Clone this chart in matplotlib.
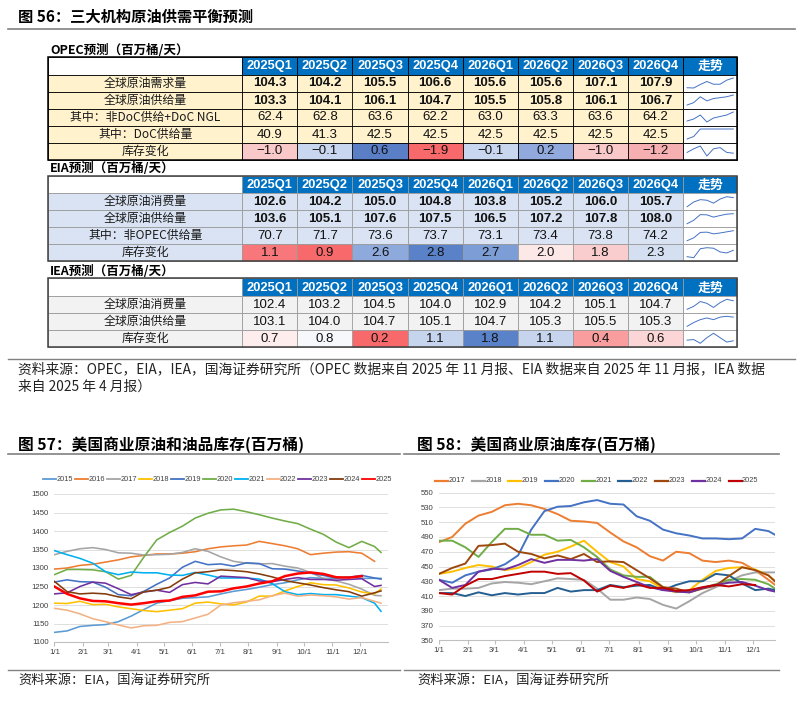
import numpy as np
import matplotlib.pyplot as plt
from matplotlib.patches import Rectangle

plt.rcParams['font.family'] = ['Noto Sans CJK SC', 'DejaVu Sans']

# ---------------- table data ----------------
quarters = ['2025Q1', '2025Q2', '2025Q3', '2025Q4', '2026Q1', '2026Q2', '2026Q3', '2026Q4']

opec_rows = ['全球原油需求量', '全球原油供给量', '其中：非DoC供给+DoC NGL', '其中：DoC供给量', '库存变化']
opec_demand = [104.3, 104.2, 105.5, 106.6, 105.6, 105.6, 107.1, 107.9]
opec_supply = [103.3, 104.1, 106.1, 104.7, 105.5, 105.8, 106.1, 106.7]
opec_nondoc = [62.4, 62.8, 63.6, 62.2, 63.0, 63.3, 63.6, 64.2]
opec_doc = [40.9, 41.3, 42.5, 42.5, 42.5, 42.5, 42.5, 42.5]
opec_stock = [-1.0, -0.1, 0.6, -1.9, -0.1, 0.2, -1.0, -1.2]

eia_rows = ['全球原油消费量', '全球原油供给量', '其中：非OPEC供给量', '库存变化']
eia_demand = [102.6, 104.2, 105.0, 104.8, 103.8, 105.2, 106.0, 105.7]
eia_supply = [103.6, 105.1, 107.6, 107.5, 106.5, 107.2, 107.8, 108.0]
eia_nonopec = [70.7, 71.7, 73.6, 73.7, 73.1, 73.4, 73.8, 74.2]
eia_stock = [1.1, 0.9, 2.6, 2.8, 2.7, 2.0, 1.8, 2.3]

iea_rows = ['全球原油消费量', '全球原油供给量', '库存变化']
iea_demand = [102.4, 103.2, 104.5, 104.0, 102.9, 104.2, 105.1, 104.7]
iea_supply = [103.1, 104.0, 104.7, 105.1, 104.7, 105.3, 105.5, 105.3]
iea_stock = [0.7, 0.8, 0.2, 1.1, 1.8, 1.1, 0.4, 0.6]

# ---------------- chart data (biweekly readings) ----------------
days = [0, 14, 28, 42, 56, 70, 84, 98, 112, 126, 140, 154, 168, 182, 196,
        210, 224, 238, 252, 266, 280, 294, 308, 322, 336, 350, 357]
month_days = [0, 31, 59, 90, 120, 151, 181, 212, 243, 273, 304, 334]
month_labels = ['1/1', '2/1', '3/1', '4/1', '5/1', '6/1', '7/1', '8/1', '9/1', '10/1', '11/1', '12/1']

years57 = ['2015', '2016', '2017', '2018', '2019', '2020', '2021', '2022', '2023', '2024', '2025']
inv_2015 = [1126, 1130, 1142, 1145, 1147, 1155, 1170, 1188, 1205, 1212, 1218, 1220, 1222, 1230, 1237, 1242, 1248, 1255, 1260, 1268, 1274, 1272, 1272, 1276, 1272, 1272, 1272]
inv_2016 = [1297, 1300, 1307, 1310, 1316, 1322, 1330, 1334, 1338, 1338, 1340, 1344, 1352, 1357, 1360, 1362, 1372, 1366, 1360, 1352, 1336, 1340, 1343, 1344, 1340, 1318]
inv_2017 = [1336, 1345, 1352, 1355, 1350, 1341, 1340, 1335, 1336, 1337, 1342, 1352, 1345, 1330, 1318, 1313, 1311, 1312, 1305, 1300, 1288, 1272, 1265, 1256, 1243, 1226, 1225]
inv_2018 = [1205, 1204, 1210, 1201, 1202, 1195, 1190, 1185, 1182, 1186, 1190, 1205, 1208, 1203, 1200, 1208, 1224, 1224, 1238, 1250, 1260, 1255, 1254, 1246, 1235, 1230, 1243]
inv_2019 = [1262, 1268, 1263, 1262, 1248, 1228, 1225, 1237, 1256, 1273, 1302, 1318, 1309, 1311, 1305, 1314, 1312, 1298, 1297, 1292, 1286, 1280, 1273, 1275, 1280, 1273, 1270]
inv_2020 = [1282, 1296, 1296, 1295, 1290, 1270, 1280, 1330, 1376, 1396, 1413, 1435, 1448, 1457, 1459, 1452, 1444, 1435, 1427, 1420, 1405, 1391, 1370, 1355, 1372, 1358, 1342]
inv_2021 = [1347, 1336, 1326, 1313, 1290, 1282, 1289, 1287, 1287, 1281, 1280, 1288, 1281, 1273, 1273, 1273, 1270, 1258, 1236, 1228, 1231, 1228, 1228, 1224, 1220, 1205, 1183]
inv_2022 = [1191, 1186, 1176, 1163, 1155, 1146, 1138, 1144, 1145, 1153, 1155, 1165, 1175, 1200, 1206, 1210, 1214, 1225, 1232, 1224, 1227, 1225, 1222, 1216, 1220, 1210, 1205]
inv_2023 = [1230, 1233, 1250, 1262, 1259, 1244, 1228, 1235, 1240, 1234, 1255, 1261, 1257, 1278, 1276, 1274, 1265, 1263, 1269, 1274, 1269, 1269, 1267, 1269, 1271, 1250, 1253]
inv_2024 = [1264, 1236, 1230, 1232, 1230, 1222, 1217, 1236, 1240, 1248, 1270, 1287, 1290, 1295, 1293, 1290, 1284, 1276, 1266, 1260, 1254, 1247, 1241, 1236, 1224, 1233, 1238]
inv_2025 = [1250, 1230, 1218, 1211, 1210, 1205, 1201, 1205, 1210, 1212, 1222, 1226, 1236, 1237, 1245, 1250, 1258, 1264, 1278, 1285, 1288, 1284, 1275, 1274, 1278]
series57 = [inv_2015, inv_2016, inv_2017, inv_2018, inv_2019, inv_2020, inv_2021, inv_2022, inv_2023, inv_2024, inv_2025]
colors57 = ['#5B9BD5', '#ED7D31', '#A5A5A5', '#FFC000', '#4472C4', '#70AD47', '#00B0F0',
            '#F4B183', '#7030A0', '#843C0C', '#FF0000']

years58 = ['2017', '2018', '2019', '2020', '2021', '2022', '2023', '2024', '2025']
crude_2017 = [483, 490, 508, 519, 524, 533, 535, 533, 528, 521, 512, 511, 509, 496, 484, 476, 464, 458, 470, 468, 458, 456, 458, 455, 445, 432, 425]
crude_2018 = [418, 420, 420, 421, 427, 429, 428, 426, 430, 434, 433, 432, 420, 405, 405, 408, 406, 398, 393, 403, 414, 422, 430, 438, 442, 442, 442]
crude_2019 = [440, 443, 448, 452, 450, 445, 448, 456, 466, 470, 477, 485, 470, 456, 450, 433, 430, 420, 415, 418, 432, 444, 448, 449, 446, 438, 430]
crude_2020 = [432, 428, 438, 443, 446, 453, 465, 500, 525, 531, 532, 537, 540, 535, 534, 518, 512, 500, 495, 492, 488, 488, 487, 488, 501, 498, 493]
crude_2021 = [485, 485, 476, 463, 483, 501, 501, 493, 493, 485, 486, 476, 463, 446, 438, 436, 436, 422, 416, 415, 421, 426, 432, 433, 432, 426, 420]
crude_2022 = [414, 414, 410, 415, 411, 414, 412, 414, 414, 421, 416, 418, 418, 425, 422, 424, 425, 418, 425, 430, 430, 440, 438, 427, 418, 420, 418]
crude_2023 = [440, 448, 454, 478, 479, 481, 470, 467, 461, 465, 460, 467, 456, 457, 456, 445, 434, 422, 420, 415, 420, 424, 437, 449, 445, 438, 430]
crude_2024 = [432, 421, 425, 443, 447, 446, 452, 460, 455, 459, 459, 458, 460, 444, 436, 429, 422, 418, 416, 415, 421, 425, 428, 429, 424, 418, 416]
crude_2025 = [414, 412, 424, 433, 433, 437, 440, 443, 443, 440, 441, 431, 416, 424, 421, 426, 421, 421, 417, 418, 422, 425, 423, 426, 425]
series58 = [crude_2017, crude_2018, crude_2019, crude_2020, crude_2021, crude_2022, crude_2023, crude_2024, crude_2025]
colors58 = ['#ED7D31', '#A5A5A5', '#FFC000', '#4472C4', '#70AD47', '#255E91', '#9E480E', '#7030A0', '#C00000']

# ---------------- figure ----------------
W, H = 804, 721
fig = plt.figure(figsize=(W / 100, H / 100), dpi=100)
ax0 = fig.add_axes([0, 0, 1, 1])
ax0.set_xlim(0, W)
ax0.set_ylim(H, 0)
ax0.axis('off')

NUM_FONT = 'Liberation Sans'
BLUE_HDR = '#0070C0'
SPARK = '#4472C4'
X_LEFT, X_LAB, CW, X_RIGHT = 48.3, 242.3, 55.1, 737.3
HH, RH = 17.5, 17.0


def fmt(v):
    return f'{v:.1f}'.replace('-', '−')


def draw_table(top, title, row_names, rows, stock_colors, bg, grid, outer, bold_rows):
    ax0.text(X_LEFT + 2, top - 7, title, fontsize=9, fontweight='bold', va='center', ha='left')
    cols = [X_LAB + j * CW for j in range(9)] + [X_RIGHT]
    ax0.add_patch(Rectangle((X_LEFT, top), X_LAB - X_LEFT, HH, fc='white', ec=grid, lw=0.6))
    for j, q in enumerate(quarters + ['走势']):
        ax0.add_patch(Rectangle((cols[j], top), cols[j + 1] - cols[j], HH, fc=BLUE_HDR, ec=grid, lw=0.6))
        fam = NUM_FONT if j < 8 else None
        ax0.text((cols[j] + cols[j + 1]) / 2, top + HH / 2 + 0.5, q, color='white', fontsize=9.3,
                 fontweight='bold', ha='center', va='center', family=fam)
    for i, (name, vals) in enumerate(zip(row_names, rows)):
        y0 = top + HH + i * RH
        last = i == len(rows) - 1
        ax0.add_patch(Rectangle((X_LEFT, y0), X_LAB - X_LEFT, RH, fc=bg, ec=grid, lw=0.6))
        ax0.text((X_LEFT + X_LAB) / 2, y0 + RH / 2, name, fontsize=8.6, ha='center', va='center',
                 color='#1a1a1a')
        for j, v in enumerate(vals):
            fc = stock_colors[j] if last else bg
            ax0.add_patch(Rectangle((cols[j], y0), CW, RH, fc=fc, ec=grid, lw=0.6))
            ax0.text(cols[j] + CW / 2, y0 + RH / 2 + 0.5, fmt(v), fontsize=9.5, ha='center', va='center',
                     family=NUM_FONT, fontweight='bold' if bold_rows[i] else 'normal', color='#111111')
        # sparkline
        ax0.add_patch(Rectangle((cols[8], y0), X_RIGHT - cols[8], RH, fc='white', ec=grid, lw=0.6))
        v = np.array(vals, dtype=float)
        span = v.max() - v.min() if v.max() > v.min() else 1.0
        xs = np.linspace(cols[8] + 4, X_RIGHT - 4, len(v))
        ys = y0 + RH - 3.5 - (v - v.min()) / span * (RH - 7)
        ax0.plot(xs, ys, color=SPARK, lw=0.7)
    bottom = top + HH + len(rows) * RH
    ax0.add_patch(Rectangle((X_LEFT, top), X_RIGHT - X_LEFT, bottom - top, fc='none', ec=outer, lw=1.1))


# title of figure 56
ax0.text(18, 17, '图 56：三大机构原油供需平衡预测', fontsize=11, fontweight='bold', va='center')
ax0.plot([8, 795], [29.3, 29.3], color='#808080', lw=1.2)

opec_colors = ['#F9C9CA', '#C9D6EF', '#5B7FC7', '#F8696B', '#C9D6EF', '#91A9DC', '#F9C9CA', '#F7B0B2']
eia_colors = ['#F8777A', '#F8696B', '#8EA9DB', '#5A82C8', '#7C9DD5', '#FDE8E8', '#F9CDCE', '#D5DFF2']
iea_colors = ['#FDEDED', '#F6F8FC', '#F8696B', '#C6D4EE', '#5A82C8', '#C6D4EE', '#FA9D9F', '#FCD5D6']

draw_table(57.0, 'OPEC预测（百万桶/天）', opec_rows,
           [opec_demand, opec_supply, opec_nondoc, opec_doc, opec_stock],
           opec_colors, '#FFF2CC', '#000000', '#000000', [True, True, False, False, False])
draw_table(175.7, 'EIA预测（百万桶/天）', eia_rows,
           [eia_demand, eia_supply, eia_nonopec, eia_stock],
           eia_colors, '#DAE3F3', '#9A9A9A', '#404040', [True, True, False, False])
draw_table(278.3, 'IEA预测（百万桶/天）', iea_rows,
           [iea_demand, iea_supply, iea_stock],
           iea_colors, '#F2F2F2', '#9A9A9A', '#404040', [False, False, False])

ax0.plot([8, 795], [359.3, 359.3], color='#808080', lw=1.0)
ax0.text(18, 369.5, '资料来源：OPEC，EIA，IEA，国海证券研究所（OPEC 数据来自 2025 年 11 月报、EIA 数据来自 2025 年 11 月报，IEA 数据',
         fontsize=9.9, va='center', color='#222222')
ax0.text(18, 386.5, '来自 2025 年 4 月报）', fontsize=9.9, va='center', color='#222222')

# chart titles & sources
ax0.text(18, 445, '图 57：美国商业原油和油品库存(百万桶)', fontsize=11.3, fontweight='bold', va='center')
ax0.text(417, 445, '图 58：美国商业原油库存(百万桶)', fontsize=11.3, fontweight='bold', va='center')
ax0.plot([8, 400], [454.3, 454.3], color='#808080', lw=1.2)
ax0.plot([404, 779], [454.3, 454.3], color='#808080', lw=1.2)
ax0.plot([8, 400], [670, 670], color='#808080', lw=1.0)
ax0.plot([404, 779], [670, 670], color='#808080', lw=1.0)
ax0.text(18, 681, '资料来源：EIA，国海证券研究所', fontsize=9.5, va='center', color='#222222')
ax0.text(417, 681, '资料来源：EIA，国海证券研究所', fontsize=9.5, va='center', color='#222222')


def px_rect(l, t, r, b):
    return [l / W, 1 - b / H, (r - l) / W, (b - t) / H]


def style_axis(ax, yticks):
    ax.set_yticks(yticks)
    ax.set_xticks(month_days)
    ax.set_xticklabels(month_labels)
    ax.grid(axis='y', color='#D9D9D9', lw=0.6)
    ax.set_axisbelow(True)
    for s in ['top', 'right', 'left']:
        ax.spines[s].set_visible(False)
    ax.spines['bottom'].set_color('#BFBFBF')
    ax.tick_params(axis='y', length=0, labelsize=5.6, labelcolor='#404040', pad=4)
    ax.tick_params(axis='x', length=3, color='#BFBFBF', labelsize=5.6, labelcolor='#404040', pad=2)
    for lab in ax.get_xticklabels() + ax.get_yticklabels():
        lab.set_family(NUM_FONT)


def draw_legend(labels, colors, x0, step, y, lw):
    for k, (lab, c) in enumerate(zip(labels, colors)):
        xl = x0 + k * step
        ax0.plot([xl, xl + 13], [y, y], color=c, lw=lw)
        ax0.text(xl + 13.5, y, lab, fontsize=5.3, va='center', ha='left', family=NUM_FONT, color='#404040')


ax57 = fig.add_axes(px_rect(54.3, 494, 388.3, 642))
for yr, s, c in zip(years57, series57, colors57):
    ax57.plot(days[:len(s)], s, color=c, lw=1.8 if yr == '2025' else 1.15, zorder=3 if yr == '2025' else 2)
ax57.set_xlim(0, 365)
ax57.set_ylim(1100, 1500)
style_axis(ax57, np.arange(1100, 1501, 50))
draw_legend(years57, colors57, 43.3, 31.9, 479.3, 1.3)

ax58 = fig.add_axes(px_rect(439, 492.7, 775, 640.3))
for yr, s, c in zip(years58, series58, colors58):
    ax58.plot(days[:len(s)], s, color=c, lw=1.4, zorder=2)
ax58.set_xlim(0, 357)
ax58.set_ylim(350, 550)
style_axis(ax58, np.arange(350, 551, 20))
draw_legend(years58, colors58, 435, 36.7, 480.7, 1.6)

fig.savefig('out.png', dpi=100)
